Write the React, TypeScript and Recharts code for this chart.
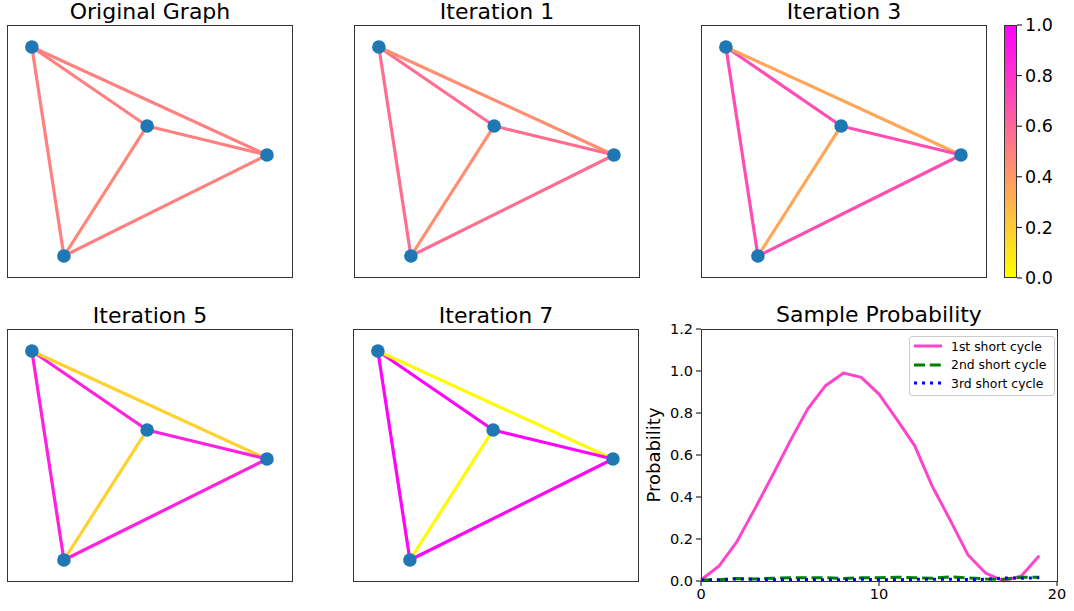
import React from 'react';
import {
  ScatterChart, Scatter, XAxis, YAxis, ReferenceLine,
  BarChart, Bar, LineChart, Line
} from 'recharts';

const FONT = '"DejaVu Sans", Verdana, sans-serif';

// node layout (arbitrary 0-100 units)
const nodeIds = ['A', 'B', 'C', 'D'];
const nodeX = [8.7, 49.0, 90.9, 19.9];
const nodeY = [91.3, 60.1, 48.6, 8.7];

const edgeList: [number, number][] = [[0, 1], [0, 2], [0, 3], [1, 2], [1, 3], [2, 3]];

// edge weights per panel, same order as edgeList
const panelTitles = ['Original Graph', 'Iteration 1', 'Iteration 3', 'Iteration 5', 'Iteration 7'];
const weightsOriginal = [0.5, 0.5, 0.5, 0.5, 0.47, 0.5];
const weightsIter1 = [0.57, 0.44, 0.57, 0.57, 0.44, 0.57];
const weightsIter3 = [0.7, 0.35, 0.7, 0.7, 0.35, 0.7];
const weightsIter5 = [0.87, 0.18, 0.87, 0.87, 0.18, 0.87];
const weightsIter7 = [0.98, 0.02, 0.98, 0.98, 0.02, 0.98];

const colorbarTicks = [0, 0.2, 0.4, 0.6, 0.8, 1.0];

// sample probability
const steps = [0, 1, 2, 3, 4, 5, 6, 7, 8, 9, 10, 11, 12, 13, 14, 15, 16, 17, 18, 19];
const cycle1 = [0.005, 0.07, 0.185, 0.34, 0.5, 0.665, 0.82, 0.93, 0.99, 0.97, 0.89, 0.77, 0.645, 0.45, 0.29, 0.124, 0.037, 0.0, 0.024, 0.12];
const cycle2 = [0.005, 0.006, 0.012, 0.01, 0.013, 0.015, 0.015, 0.016, 0.012, 0.015, 0.015, 0.018, 0.016, 0.013, 0.02, 0.015, 0.01, 0.008, 0.018, 0.018];
const cycle3 = [0.005, 0.005, 0.01, 0.008, 0.006, 0.006, 0.007, 0.006, 0.006, 0.008, 0.007, 0.006, 0.008, 0.008, 0.008, 0.007, 0.008, 0.015, 0.013, 0.016];
const seriesNames = ['1st short cycle', '2nd short cycle', '3rd short cycle'];
const probTicksY = [0, 0.2, 0.4, 0.6, 0.8, 1.0, 1.2];
const probTicksX = [0, 10, 20];

// spring_r colormap: 0 -> yellow, 1 -> magenta
function springR(v: number) {
  const g = Math.round(255 * (1 - v));
  const b = Math.round(255 * v);
  return `rgb(255,${g},${b})`;
}

const nodes = nodeIds.map((id, i) => ({ id, x: nodeX[i], y: nodeY[i] }));

const seriesStyle = [
  { color: '#ff44cc', dash: undefined },
  { color: '#008000', dash: '11 4.8' },
  { color: '#0000ff', dash: '3 5' },
];

const probData = steps.map((s, i) => ({ step: s, c1: cycle1[i], c2: cycle2[i], c3: cycle3[i] }));

const PW = 286;
const PH = 253;
const spine = '#333';

function GraphPanel({ title, weights, left, top }: { title: string; weights: number[]; left: number; top: number }) {
  return (
    <div style={{ position: 'absolute', left, top, width: PW, height: PH }}>
      <div style={{ position: 'absolute', left: -40, width: PW + 80, top: -24, textAlign: 'center', fontSize: 22, lineHeight: '22px', whiteSpace: 'nowrap' }}>{title}</div>
      <ScatterChart width={PW} height={PH} margin={{ top: 0, right: 0, bottom: 0, left: 0 }}>
        <XAxis type="number" dataKey="x" domain={[0, 100]} hide />
        <YAxis type="number" dataKey="y" domain={[0, 100]} hide />
        {edgeList.map(([a, b], i) => (
          <ReferenceLine
            key={i}
            segment={[{ x: nodeX[a], y: nodeY[a] }, { x: nodeX[b], y: nodeY[b] }]}
            stroke={springR(weights[i])}
            strokeWidth={3.2}
            ifOverflow="visible"
          />
        ))}
        <Scatter
          data={nodes}
          isAnimationActive={false}
          shape={(p: any) => <circle cx={p.cx} cy={p.cy} r={6.8} fill="#1f77b4" />}
        />
      </ScatterChart>
      <div style={{ position: 'absolute', left: 0, top: 0, width: PW, height: PH, border: `1px solid ${spine}`, boxSizing: 'border-box', pointerEvents: 'none' }} />
    </div>
  );
}

function Colorbar() {
  const data = [{ name: 'cb', v: 1 }];
  return (
    <div style={{ position: 'absolute', left: 1004, top: 15 }}>
      <BarChart width={70} height={273} data={data} margin={{ top: 10, right: 0, bottom: 10, left: 0 }} barCategoryGap={0}>
        <defs>
          <linearGradient id="cbGrad" x1="0" y1="1" x2="0" y2="0">
            <stop offset="0%" stopColor={springR(0)} />
            <stop offset="100%" stopColor={springR(1)} />
          </linearGradient>
        </defs>
        <XAxis dataKey="name" hide />
        <YAxis
          orientation="right"
          type="number"
          domain={[0, 1]}
          ticks={colorbarTicks}
          interval={0}
          tickFormatter={(v: number) => v.toFixed(1)}
          width={57}
          axisLine={false}
          tickSize={5}
          tickMargin={3}
          tickLine={{ stroke: '#000' }}
          tick={{ fill: '#000', fontSize: 17.5, fontFamily: FONT }}
        />
        <Bar dataKey="v" fill="url(#cbGrad)" isAnimationActive={false} />
      </BarChart>
      <div style={{ position: 'absolute', left: 0, top: 10, width: 13, height: 253, border: `1px solid ${spine}`, boxSizing: 'border-box', pointerEvents: 'none' }} />
    </div>
  );
}

function ProbLegend() {
  return (
    <div style={{ position: 'absolute', left: 909, top: 336, border: '1px solid #cccccc', borderRadius: 3, background: 'rgba(255,255,255,0.85)', padding: '0px 8px 2px 4px', fontFamily: FONT, fontSize: 12.4 }}>
      {seriesNames.map((n, i) => (
        <div key={n} style={{ display: 'flex', alignItems: 'center', height: 18.5 }}>
          <svg width={28} height={8} style={{ marginRight: 9 }}>
            <line x1={0} y1={4} x2={28} y2={4} stroke={seriesStyle[i].color} strokeWidth={3} strokeDasharray={seriesStyle[i].dash} />
          </svg>
          <span>{n}</span>
        </div>
      ))}
    </div>
  );
}

function ProbChart() {
  return (
    <>
      <div style={{ position: 'absolute', left: 701, width: 356, top: 304, textAlign: 'center', fontSize: 22, lineHeight: '22px', whiteSpace: 'nowrap' }}>Sample Probability</div>
      <div style={{ position: 'absolute', left: 640, top: 319 }}>
        <LineChart width={434} height={292} data={probData} margin={{ top: 10, right: 17, bottom: 0, left: 9 }}>
          <XAxis
            dataKey="step"
            type="number"
            domain={[0, 20]}
            ticks={probTicksX}
            interval={0}
            height={30}
            axisLine={false}
            tickSize={5}
            tickMargin={3}
            tickLine={{ stroke: '#000' }}
            tick={{ fill: '#000', fontSize: 14.5, fontFamily: FONT }}
          />
          <YAxis
            type="number"
            domain={[0, 1.2]}
            ticks={probTicksY}
            interval={0}
            tickFormatter={(v: number) => v.toFixed(1)}
            width={52}
            axisLine={false}
            tickSize={5}
            tickMargin={3}
            tickLine={{ stroke: '#000' }}
            tick={{ fill: '#000', fontSize: 14.5, fontFamily: FONT }}
            label={{ value: 'Probability', angle: -90, position: 'insideLeft', offset: 5, style: { textAnchor: 'middle', fontSize: 18, fontFamily: FONT, fill: '#000' } }}
          />
          <Line dataKey="c1" name={seriesNames[0]} stroke={seriesStyle[0].color} strokeWidth={3} dot={false} isAnimationActive={false} />
          <Line dataKey="c2" name={seriesNames[1]} stroke={seriesStyle[1].color} strokeWidth={3} strokeDasharray={seriesStyle[1].dash} dot={false} isAnimationActive={false} />
          <Line dataKey="c3" name={seriesNames[2]} stroke={seriesStyle[2].color} strokeWidth={3} strokeDasharray={seriesStyle[2].dash} dot={false} isAnimationActive={false} />
        </LineChart>
        <div style={{ position: 'absolute', left: 61, top: 10, width: 357, height: 253, border: `1px solid ${spine}`, boxSizing: 'border-box', pointerEvents: 'none' }} />
      </div>
      <ProbLegend />
    </>
  );
}

export default function App() {
  return (
    <div style={{ position: 'absolute', left: 0, top: 0, width: 1074, height: 611, background: '#fff', fontFamily: FONT, color: '#000' }}>
      <GraphPanel title={panelTitles[0]} weights={weightsOriginal} left={7} top={25} />
      <GraphPanel title={panelTitles[1]} weights={weightsIter1} left={354} top={25} />
      <GraphPanel title={panelTitles[2]} weights={weightsIter3} left={701} top={25} />
      <Colorbar />
      <GraphPanel title={panelTitles[3]} weights={weightsIter5} left={7} top={329} />
      <GraphPanel title={panelTitles[4]} weights={weightsIter7} left={353} top={329} />
      <ProbChart />
    </div>
  );
}
